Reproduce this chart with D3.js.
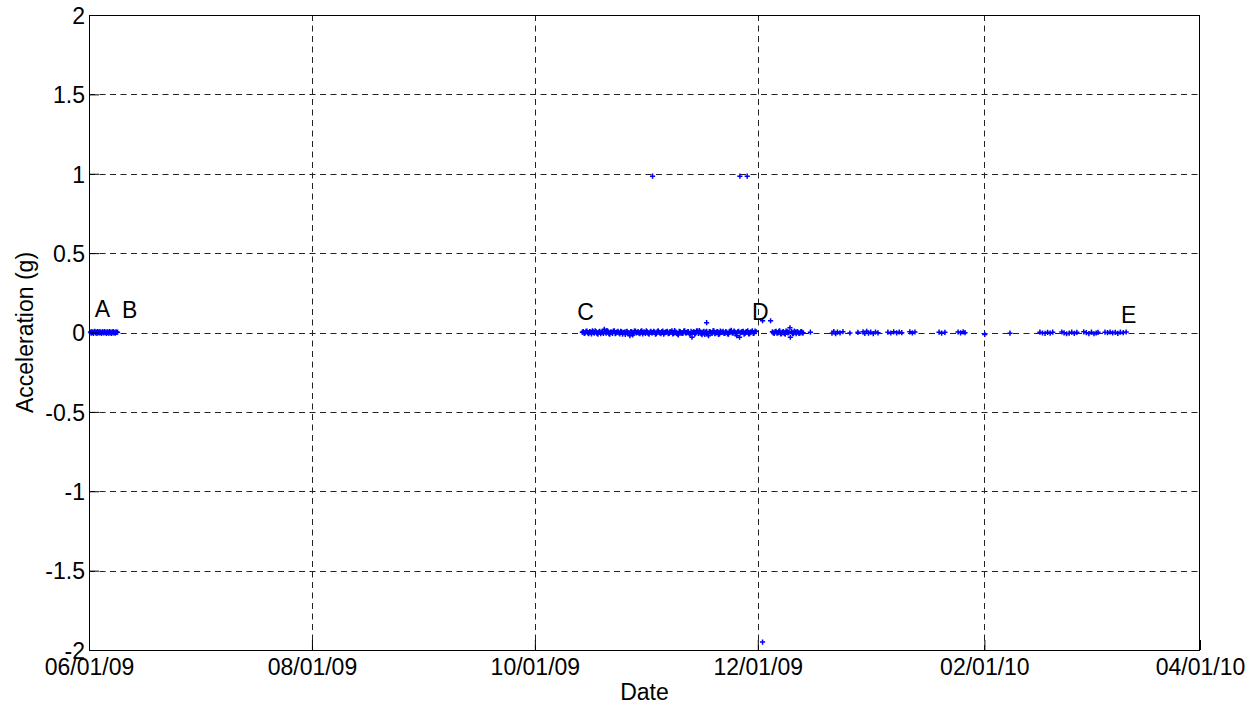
<!DOCTYPE html>
<html>
<head>
<meta charset="utf-8">
<script src="https://cdn.jsdelivr.net/npm/d3@7/dist/d3.min.js"></script>
<style>
  html, body { margin: 0; padding: 0; background: #fff; }
  svg { display: block; }
  text { font-family: "Liberation Sans", Arial, Helvetica, sans-serif; fill: #000; }
</style>
</head>
<body>
<svg id="chart" width="1255" height="706"></svg>
<script>
// Accelerometer readings, time given in days after 2009-06-01 00:00 UTC
const seriesStart = Date.UTC(2009, 5, 1);

// June deployment (A–B)
const daysJun = [0.4, 0.6, 0.8, 1.0, 1.2, 1.4, 1.6, 1.8, 2.0, 2.2, 2.4, 2.6, 2.8, 3.0, 3.2, 3.4, 3.6, 3.8, 4.0,
  4.2, 4.4, 4.6, 4.8, 5.0, 5.2, 5.4, 5.6, 5.8, 6.0, 6.2, 6.4, 6.6, 6.8, 7.0, 7.2, 7.4, 7.6, 7.8];
const accJun = [0.003, -0.004, 0.006, 0.001, -0.005, 0.004, 0.007, -0.002, 0.002, -0.006,
  0.005, 0.001, -0.003, 0.006, 0.000, -0.005, 0.004, 0.002, -0.003, 0.005,
  -0.001, 0.003, -0.006, 0.004, 0.001, -0.004, 0.006, -0.002, 0.003, -0.005,
  0.002, 0.005, -0.003, 0.001, -0.004, 0.004, 0.000, 0.002];

// Continuous record October–November (C–D), whole and half days
const daysFall = [
  135.0, 135.5, 136.0, 136.5, 137.0, 137.5, 138.0, 138.5, 139.0, 139.5, 140.0, 140.5,
  141.0, 141.5, 142.0, 142.5, 143.0, 143.5, 144.0, 144.5, 145.0, 145.5, 146.0, 146.5,
  147.0, 147.5, 148.0, 148.5, 149.0, 149.5, 150.0, 150.5, 151.0, 151.5, 152.0, 152.5,
  153.0, 153.5, 154.0, 154.5, 155.0, 155.5, 156.0, 156.5, 157.0, 157.5, 158.0, 158.5,
  159.0, 159.5, 160.0, 160.5, 161.0, 161.5, 162.0, 162.5, 163.0, 163.5, 164.0, 164.5,
  165.0, 165.5, 166.0, 166.5, 167.0, 167.5, 168.0, 168.5, 169.0, 169.5, 170.0, 170.5,
  171.0, 171.5, 172.0, 172.5, 173.0, 173.5, 174.0, 174.5, 175.0, 175.5, 176.0, 176.5,
  177.0, 177.5, 178.0, 178.5, 179.0, 179.5, 180.0, 180.5, 181.0, 181.5, 182.0, 182.5];
const accFall = [
  0.002, -0.006, 0.008, -0.003, 0.005, -0.009, 0.004, 0.010, -0.005, 0.003, -0.008, 0.006,
  0.020, -0.004, 0.007, -0.010, 0.002, 0.009, -0.007, 0.004, -0.002, 0.008, -0.011, 0.003,
  0.006, -0.005, -0.020, 0.004, -0.007, 0.009, 0.001, -0.004, 0.007, -0.009, 0.003, 0.010,
  -0.006, 0.002, -0.003, 0.008, -0.010, 0.005, 0.001, -0.007, 0.009, -0.002, 0.004, -0.008,
  0.006, 0.011, -0.005, 0.003, -0.009, 0.007, 0.000, -0.006, 0.010, -0.003, 0.005, -0.011,
  -0.030, 0.006, -0.004, 0.009, 0.012, -0.008, 0.003, -0.012, 0.007, -0.020, 0.004, -0.006,
  0.010, -0.002, 0.006, -0.009, 0.003, 0.008, -0.005, 0.001, -0.010, 0.007, -0.003, 0.009,
  -0.007, 0.004, -0.030, 0.002, 0.008, -0.006, 0.005, -0.009, 0.003, 0.010, -0.004, 0.006];

// Same record, quarter-day samples in between
const daysFallQ = [
  135.25, 135.75, 136.25, 136.75, 137.25, 137.75, 138.25, 138.75, 139.25, 139.75, 140.25, 140.75,
  141.25, 141.75, 142.25, 142.75, 143.25, 143.75, 144.25, 144.75, 145.25, 145.75, 146.25, 146.75,
  147.25, 147.75, 148.25, 148.75, 149.25, 149.75, 150.25, 150.75, 151.25, 151.75, 152.25, 152.75,
  153.25, 153.75, 154.25, 154.75, 155.25, 155.75, 156.25, 156.75, 157.25, 157.75, 158.25, 158.75,
  159.25, 159.75, 160.25, 160.75, 161.25, 161.75, 162.25, 162.75, 163.25, 163.75, 164.25, 164.75,
  165.25, 165.75, 166.25, 166.75, 167.25, 167.75, 168.25, 168.75, 169.25, 169.75, 170.25, 170.75,
  171.25, 171.75, 172.25, 172.75, 173.25, 173.75, 174.25, 174.75, 175.25, 175.75, 176.25, 176.75,
  177.25, 177.75, 178.25, 178.75, 179.25, 179.75, 180.25, 180.75, 181.25, 181.75, 182.25];
const accFallQ = [
  0.006, -0.003, 0.009, -0.007, 0.002, 0.011, -0.004, 0.005, -0.010, 0.008, 0.001, -0.006,
  0.004, 0.012, -0.008, 0.003, -0.005, 0.010, -0.002, 0.007, -0.009, 0.004, 0.000, -0.012,
  0.008, -0.004, 0.006, -0.015, 0.009, -0.003, 0.005, -0.008, 0.011, 0.002, -0.006, 0.004,
  -0.010, 0.007, -0.001, 0.003, -0.007, 0.010, -0.004, 0.006, -0.011, 0.002, 0.008, -0.005,
  0.003, -0.009, 0.012, -0.003, -0.015, 0.005, -0.006, 0.009, -0.002, 0.004, -0.008, 0.007,
  0.001, -0.010, 0.011, -0.005, 0.003, -0.014, 0.008, 0.002, -0.007, 0.006, -0.003, 0.010,
  -0.008, 0.004, -0.012, 0.009, 0.000, -0.006, 0.005, -0.009, 0.007, 0.013, -0.004, 0.002,
  -0.020, 0.008, -0.003, 0.006, -0.010, 0.004, 0.011, -0.007, 0.003, -0.005, 0.009];

// Early December burst
const daysDec = [187.0, 187.25, 187.5, 187.75, 188.0, 188.25, 188.5, 188.75, 189.0, 189.25, 189.5, 189.75,
  190.0, 190.25, 190.5, 190.75, 191.0, 191.25, 191.5, 191.8, 191.9, 192.25, 192.5, 192.75,
  193.0, 193.25, 193.5, 193.75, 194.0, 194.25, 194.5, 194.75, 195.0, 195.2, 195.4];
const accDec = [0.004, -0.002, -0.006, 0.005, 0.008, -0.004, -0.003, 0.007, 0.010, -0.009, -0.008, 0.003,
  0.005, -0.006, -0.011, 0.009, 0.007, -0.003, 0.002, 0.030, -0.030, 0.006, -0.005, -0.008,
  0.009, 0.002, -0.007, 0.005, 0.003, -0.006, -0.004, 0.004, 0.006, -0.003, -0.002];

// Intermittent records December–March (D–E)
const daysWinter = [
  197.4, 203.3, 203.8, 204.3, 204.8, 205.5, 206.3, 208.2, 210.4,
  211.8, 212.3, 212.8, 213.3, 213.9, 214.6, 215.2, 215.9,
  218.6, 219.4, 220.2, 221.0, 221.7, 222.4, 224.6, 225.3, 226.0,
  232.6, 233.3, 234.2, 237.8, 238.5, 239.2, 239.7, 245.1, 252.0,
  260.2, 260.9, 261.6, 262.3, 263.0, 263.7,
  266.2, 266.8, 267.5, 268.2, 268.9, 269.6, 270.3,
  272.2, 272.9, 273.6, 274.3, 275.0, 275.6, 276.1,
  278.0, 278.7, 279.4, 280.1, 280.8, 281.5, 282.2, 283.0, 283.8];
const accWinter = [
  0.002, -0.004, 0.006, -0.008, 0.003, -0.002, 0.005, -0.003, 0.001,
  0.004, -0.006, 0.008, -0.004, 0.002, -0.007, 0.003, -0.002,
  0.002, -0.003, 0.004, -0.002, 0.003, -0.001, 0.004, -0.002, 0.003,
  0.002, -0.004, 0.001, 0.003, -0.002, 0.004, -0.001, -0.012, -0.004,
  0.002, -0.003, -0.005, 0.001, -0.004, 0.002,
  0.003, -0.002, -0.008, -0.004, 0.002, -0.006, 0.001,
  0.004, -0.001, -0.007, 0.002, -0.008, -0.003, 0.001,
  0.002, -0.001, 0.003, -0.002, 0.001, -0.006, 0.002, -0.001, 0.003];

// Isolated spikes
const daysSpike = [154.2, 169.0, 178.1, 180.1, 184.3, 184.3, 186.5];
const accSpike  = [0.985, 0.062, 0.985, 0.985, -1.95, 0.074, 0.074];

// Event annotations
const markLabels = ["A", "B", "C", "D", "E"];
const markDays   = [1.6, 9.0, 133.6, 181.4, 282.4];
const markAcc    = [0.098, 0.092, 0.079, 0.079, 0.060];

// Axis ticks
const xTickDates  = [[2009, 5, 1], [2009, 7, 1], [2009, 9, 1], [2009, 11, 1], [2010, 1, 1], [2010, 3, 1]];
const xTickLabels = ["06/01/09", "08/01/09", "10/01/09", "12/01/09", "02/01/10", "04/01/10"];
const yTicks      = [-2, -1.5, -1, -0.5, 0, 0.5, 1, 1.5, 2];
const yTickLabels = ["-2", "-1.5", "-1", "-0.5", "0", "0.5", "1", "1.5", "2"];

const toDate = d => new Date(seriesStart + d * 864e5);

const svg = d3.select("#chart");
const W = 1255, H = 706;
const plotL = 89, plotR = 1200, plotT = 15, plotB = 650;
const fontSize = 23;

svg.append("rect").attr("width", W).attr("height", H).attr("fill", "#fff");

const xTickVals = xTickDates.map(d => new Date(Date.UTC(d[0], d[1], d[2])));
const x = d3.scaleUtc().domain([xTickVals[0], xTickVals[xTickVals.length - 1]]).range([plotL, plotR]);
const y = d3.scaleLinear().domain([-2, 2]).range([plotB, plotT]);

// Dashed grid
const grid = svg.append("g").attr("stroke", "#222").attr("stroke-width", 1)
  .attr("stroke-dasharray", "6,4.5").attr("fill", "none");
grid.selectAll("line.v").data(xTickVals.slice(1, -1)).join("line")
  .attr("x1", d => Math.round(x(d)) + 0.5).attr("x2", d => Math.round(x(d)) + 0.5)
  .attr("y1", plotT).attr("y2", plotB);
grid.selectAll("line.h").data(yTicks.slice(1, -1)).join("line")
  .attr("y1", d => Math.round(y(d)) + 0.5).attr("y2", d => Math.round(y(d)) + 0.5)
  .attr("x1", plotL).attr("x2", plotR);

// Data points as "+" markers
const points = [];
[[daysJun, accJun], [daysFall, accFall], [daysFallQ, accFallQ], [daysDec, accDec],
 [daysWinter, accWinter], [daysSpike, accSpike]]
  .forEach(([ds, as]) => ds.forEach((d, i) => points.push({ t: toDate(d), v: as[i] })));

const plus = "M-2.6,0H2.6M0,-2.6V2.6";
svg.append("g").attr("stroke", "#0000ff").attr("stroke-width", 1.5).attr("fill", "none")
  .selectAll("path").data(points).join("path")
  .attr("transform", d => `translate(${x(d.t)},${y(d.v)})`)
  .attr("d", plus);

// Axes (ticks inward)
const xAxis = d3.axisBottom(x).tickValues(xTickVals).tickSizeInner(-10).tickSizeOuter(0)
  .tickFormat((d, i) => xTickLabels[i]);
const yAxis = d3.axisLeft(y).tickValues(yTicks).tickSizeInner(-10).tickSizeOuter(0)
  .tickFormat((d, i) => yTickLabels[i]);

const gx = svg.append("g").attr("transform", `translate(0,${plotB})`).call(xAxis);
const gy = svg.append("g").attr("transform", `translate(${plotL},0)`).call(yAxis);
[gx, gy].forEach(g => {
  g.select(".domain").remove();
  g.selectAll(".tick line").attr("stroke", "#000");
  g.selectAll("text").attr("font-size", fontSize).attr("font-family", "Liberation Sans, Arial, sans-serif").attr("fill", "#000");
});
gx.selectAll(".tick text").attr("y", 25).attr("dy", 0);
gy.selectAll(".tick text").attr("x", -4).attr("dy", "0.36em");

// Box
svg.append("rect").attr("x", plotL + 0.5).attr("y", plotT + 0.5)
  .attr("width", plotR - plotL - 1).attr("height", plotB - plotT)
  .attr("fill", "none").attr("stroke", "#000").attr("stroke-width", 1);

// Event letters
svg.append("g").selectAll("text").data(markLabels).join("text")
  .attr("x", (d, i) => x(toDate(markDays[i])))
  .attr("y", (d, i) => y(markAcc[i]))
  .attr("font-size", fontSize)
  .text(d => d);

// Axis titles
svg.append("text").attr("x", (plotL + plotR) / 2).attr("y", 700)
  .attr("text-anchor", "middle").attr("font-size", fontSize).text("Date");
svg.append("text").attr("transform", `translate(33,${(plotT + plotB) / 2}) rotate(-90)`)
  .attr("text-anchor", "middle").attr("font-size", fontSize).text("Acceleration (g)");
</script>
</body>
</html>
